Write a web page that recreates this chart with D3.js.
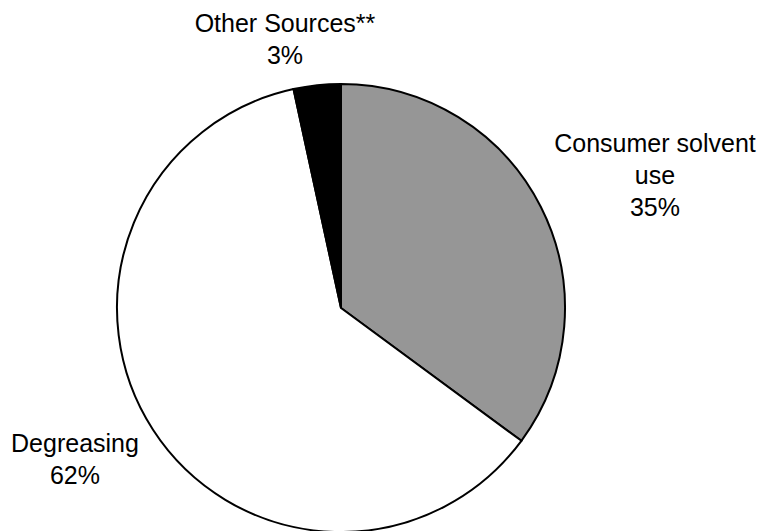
<!DOCTYPE html>
<html>
<head>
<meta charset="utf-8">
<script src="https://cdn.jsdelivr.net/npm/d3@7"></script>
<style>
  html, body { margin: 0; padding: 0; background: #fff; }
  svg { display: block; }
  text { font-family: "Liberation Sans", Arial, sans-serif; font-size: 25px; fill: #000; }
</style>
</head>
<body>
<svg id="chart" width="765" height="531"></svg>
<script>
// Data
const categories = ["Consumer solvent use", "Degreasing", "Other Sources**"];
const values = [35.1, 61.5, 3.4];
const percentLabels = ["35%", "62%", "3%"];
const labelLines = [["Consumer solvent", "use"], ["Degreasing"], ["Other Sources**"]];
const colors = ["#969696", "#ffffff", "#000000"];

const svg = d3.select("#chart");
const cx = 341, cy = 308, r = 224;

const pie = d3.pie().sort(null).value(d => d.value);
const arcs = pie(categories.map((c, i) => ({ name: c, value: values[i] })));
const arc = d3.arc().innerRadius(0).outerRadius(r);

const g = svg.append("g").attr("transform", `translate(${cx},${cy})`);
g.selectAll("path").data(arcs).join("path")
  .attr("d", arc)
  .attr("fill", (d, i) => colors[i])
  .attr("stroke", "#000")
  .attr("stroke-width", 2)
  .attr("stroke-linejoin", "miter");

// Label positions (anchor centre x, first baseline y)
const labelPos = [[655, 152], [75, 452], [285, 32]];
const lineH = 32;
labelPos.forEach((p, i) => {
  const lines = labelLines[i].concat([percentLabels[i]]);
  const t = svg.append("text").attr("text-anchor", "middle");
  lines.forEach((ln, j) => {
    t.append("tspan").attr("x", p[0]).attr("y", p[1] + j * lineH).text(ln);
  });
});
</script>
</body>
</html>
